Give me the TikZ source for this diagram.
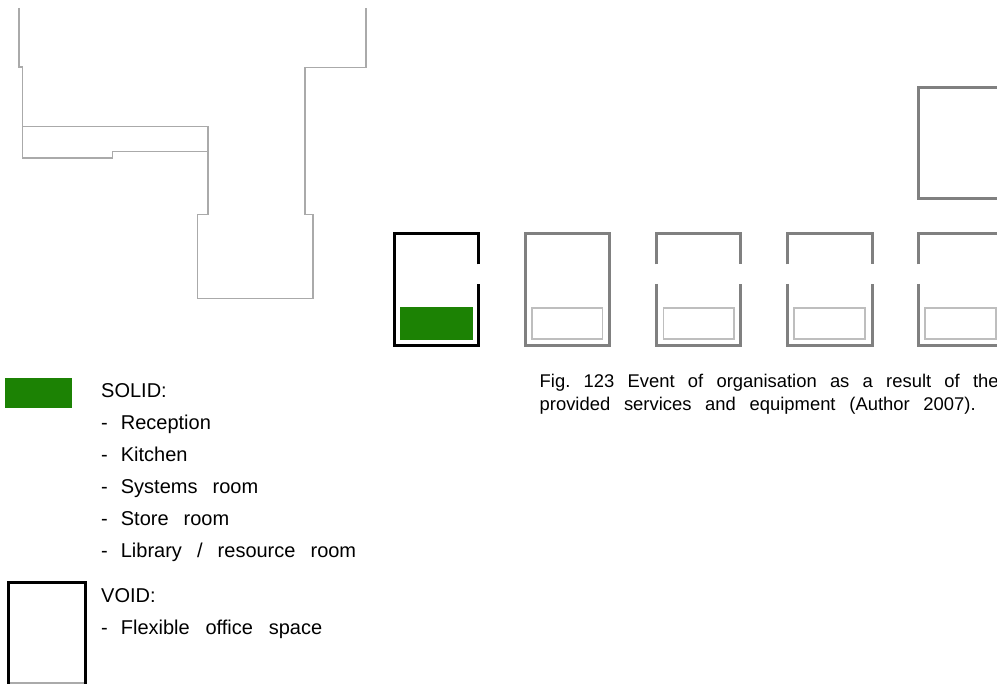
\documentclass[tikz,border=0pt]{standalone}
\usepackage{fontspec}
\setmainfont{Liberation Sans}
\definecolor{SolidGreen}{RGB}{28,130,4}
\definecolor{FrameGrey}{RGB}{128,128,128}
\definecolor{InnerGrey}{RGB}{190,190,190}
\definecolor{PlanGrey}{RGB}{170,170,170}
\usetikzlibrary{positioning}

\begin{document}
\frenchspacing
\begin{tikzpicture}[
      x=1pt, y=-1pt,
      plan/.style={draw=PlanGrey, line width=1.2pt},
      voidblack/.style={draw=black, line width=3pt},
      voidgrey/.style={draw=FrameGrey, line width=3pt},
      innerbox/.style={draw=InnerGrey, line width=1.2pt},
      solidbox/.style={fill=SolidGreen},
      label/.style={anchor=base west, inner sep=0pt, font=\fontsize{20}{24}\selectfont},
      caption/.style={anchor=base west, inner sep=0pt, font=\fontsize{18.4}{22}\selectfont}
  ]
    \clip (0,0) rectangle (997,684);
    % floor plan
    \draw[plan] (19,8) -- (19,67) -- (22.5,67) -- (22.5,158) -- (112.5,158) -- (112.5,151.5) -- (208,151.5);
    \draw[plan] (22.5,126.5) -- (208,126.5) -- (208,214.5) -- (197.5,214.5) -- (197.5,298.5) -- (313,298.5) -- (313,214.5) -- (305,214.5) -- (305,67.5) -- (366,67.5) -- (366,8);
    % frames
    \draw[voidblack] (478.5,264.5) -- (478.5,234) -- (394,234) -- (394,345.5) -- (478.5,345.5) -- (478.5,284);
    \fill[solidbox] (399.5,307.5) rectangle (472.5,340);
    \draw[voidgrey] (525.5,234) rectangle (609.5,345.5);
    \draw[innerbox] (532,308) rectangle (602.5,339);
    \draw[voidgrey] (656.5,264.5) -- (656.5,234) -- (740.5,234) -- (740.5,264.5);
    \draw[voidgrey] (656.5,284) -- (656.5,345.5) -- (740.5,345.5) -- (740.5,284);
    \draw[innerbox] (663.5,308) rectangle (734,339);
    \draw[voidgrey] (787.5,264.5) -- (787.5,234) -- (872,234) -- (872,264.5);
    \draw[voidgrey] (787.5,284) -- (787.5,345.5) -- (872,345.5) -- (872,284);
    \draw[innerbox] (794,308) rectangle (865,339);
    \draw[voidgrey] (918.5,264.5) -- (918.5,234) -- (1003,234) -- (1003,264.5);
    \draw[voidgrey] (918.5,284) -- (918.5,345.5) -- (1003,345.5) -- (1003,284);
    \draw[innerbox] (925,308) rectangle (996,339);
    \draw[voidgrey] (1003,88) -- (918.5,88) -- (918.5,199) -- (1003,199);
    % legend
    \fill[solidbox] (5,378) rectangle (72,408);
    \draw[plan] (8,683) -- (85.5,683);
    \draw[voidblack] (8,690) -- (8,583) -- (85.5,583) -- (85.5,690);
    \node[label] (solid) at (101,398) {SOLID:};
    \node[label] (reception) at (101,430) {-\hspace{13pt}Reception};
    \node[label] (kitchen) at (101,462) {-\hspace{13pt}Kitchen};
    \node[label] (systems) at (101,494) {\makebox[157pt][s]{-\hspace{13pt}Systems room}};
    \node[label] (store) at (101,526) {\makebox[128pt][s]{-\hspace{13pt}Store room}};
    \node[label] (library) at (101,558) {\makebox[255pt][s]{-\hspace{13pt}Library / resource room}};
    \node[label] (void) at (101,603) {VOID:};
    \node[label] (flexible) at (101,634) {\makebox[221pt][s]{-\hspace{13pt}Flexible office space}};
    \node[caption] (cap1) at (539.5,387.5) {\makebox[459pt][s]{Fig. 123 Event of organisation as a result of the}};
    \node[caption] (cap2) at (539.5,410.5) {\makebox[436pt][s]{provided services and equipment (Author 2007).}};
  \end{tikzpicture}
\end{document}
